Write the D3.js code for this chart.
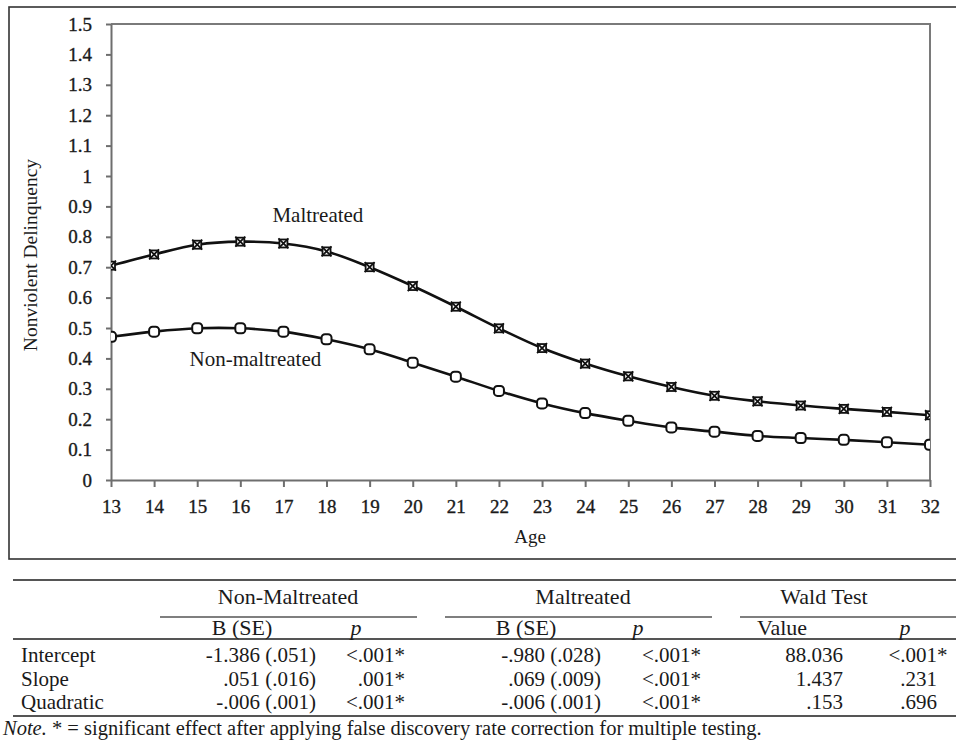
<!DOCTYPE html>
<html>
<head>
<meta charset="utf-8">
<script src="https://cdn.jsdelivr.net/npm/d3@7"></script>
<style>
body { margin: 0; background: #fff; }
svg, text, .axis text { font-family: "Liberation Serif", "Times New Roman", Times, "DejaVu Serif", serif; }
text { fill: #1a1a1a; }
.axis path, .axis line { stroke: #6e6e6e; stroke-width: 2px; }
.axis text { font-size: 19px; fill: #1a1a1a; stroke: #1a1a1a; stroke-width: 0.35px; }
path.line { fill: none; stroke: #111; stroke-width: 2.6px; }
.rule { stroke: #555; }
</style>
</head>
<body>
<script>
// chart data
var ages = [13,14,15,16,17,18,19,20,21,22,23,24,25,26,27,28,29,30,31,32];
var maltreated = [0.705,0.742,0.774,0.784,0.778,0.752,0.700,0.638,0.570,0.499,0.434,0.383,0.341,0.306,0.277,0.259,0.245,0.234,0.224,0.213];
var nonMaltreated = [0.471,0.488,0.499,0.499,0.488,0.463,0.430,0.386,0.340,0.293,0.252,0.220,0.195,0.173,0.159,0.145,0.138,0.132,0.124,0.116];
var yTicks = [0,0.1,0.2,0.3,0.4,0.5,0.6,0.7,0.8,0.9,1,1.1,1.2,1.3,1.4,1.5];

// table data
var rowLabels = ["Intercept", "Slope", "Quadratic"];
var nonMalB = ["-1.386 (.051)", ".051 (.016)", "-.006 (.001)"];
var nonMalP = ["<.001*", ".001*", "<.001*"];
var malB = ["-.980 (.028)", ".069 (.009)", "-.006 (.001)"];
var malP = ["<.001*", "<.001*", "<.001*"];
var waldValue = ["88.036", "1.437", ".153"];
var waldP = ["<.001*", ".231", ".696"];
var groupHeads = ["Non-Maltreated", "Maltreated", "Wald Test"];
var colHeads = ["B (SE)", "p", "B (SE)", "p", "Value", "p"];

var width = 956, height = 753;
var svg = d3.select("body").append("svg")
    .attr("width", width)
    .attr("height", height);

// outer box round the figure
svg.append("rect")
    .attr("x", 9).attr("y", 7)
    .attr("width", 960).attr("height", 552)
    .attr("fill", "none")
    .attr("stroke", "#333")
    .attr("stroke-width", 1.6);

var x = d3.scaleLinear().domain([13, 32]).range([111, 930]);
var y = d3.scaleLinear().domain([0, 1.5]).range([480, 24]);

// plot frame (top and right)
svg.append("path")
    .attr("d", "M" + x(13) + "," + y(1.5) + "H" + x(32) + "V" + y(0))
    .attr("fill", "none")
    .attr("stroke", "#7a7a7a")
    .attr("stroke-width", 2);

var yAxis = svg.append("g")
    .attr("class", "axis")
    .attr("transform", "translate(" + x(13) + ",0)")
    .call(d3.axisLeft(y).tickValues(yTicks).tickSize(5).tickSizeOuter(0).tickPadding(14)
        .tickFormat(function(d) { return String(+d.toFixed(1)); }));

var xAxis = svg.append("g")
    .attr("class", "axis")
    .attr("transform", "translate(0," + y(0) + ")")
    .call(d3.axisBottom(x).tickValues(ages).tickSize(7).tickSizeOuter(0).tickPadding(13)
        .tickFormat(d3.format("d")));

// d3 puts font-family on the axis groups, take it off
yAxis.attr("font-family", null).attr("font-size", null);
xAxis.attr("font-family", null).attr("font-size", null);

svg.append("text")
    .attr("transform", "translate(37," + y(0.74) + ") rotate(-90)")
    .attr("text-anchor", "middle")
    .style("font-size", "19.5px")
    .text("Nonviolent Delinquency");

svg.append("text")
    .attr("x", 530).attr("y", 543)
    .attr("text-anchor", "middle")
    .style("font-size", "19px")
    .text("Age");

// clip markers to plot area, the end ones are cut in half
svg.append("clipPath").attr("id", "plotclip")
  .append("rect")
    .attr("x", x(13)).attr("y", y(1.5))
    .attr("width", x(32) - x(13)).attr("height", y(0) - y(1.5));

var line = d3.line()
    .x(function(d) { return x(d[0]); })
    .y(function(d) { return y(d[1]); })
    .curve(d3.curveCatmullRom);

var series = [
  {name: "Maltreated", vals: maltreated},
  {name: "Non-maltreated", vals: nonMaltreated}
];

var plot = svg.append("g").attr("clip-path", "url(#plotclip)");

plot.selectAll("path.line")
    .data(series)
  .enter().append("path")
    .attr("class", "line")
    .attr("d", function(s) { return line(d3.zip(ages, s.vals)); });

// maltreated: small square with a cross through it
var mal = plot.selectAll("g.mal")
    .data(d3.zip(ages, maltreated))
  .enter().append("g")
    .attr("class", "mal")
    .attr("transform", function(d) { return "translate(" + x(d[0]) + "," + y(d[1]) + ")"; });
mal.append("rect")
    .attr("x", -4).attr("y", -4).attr("width", 8).attr("height", 8)
    .attr("fill", "#fff").attr("stroke", "#111").attr("stroke-width", 1.8);
mal.append("path")
    .attr("d", "M-5,-5L5,5M5,-5L-5,5")
    .attr("stroke", "#111").attr("stroke-width", 1.8);

// non-maltreated: open rounded square
plot.selectAll("rect.non")
    .data(d3.zip(ages, nonMaltreated))
  .enter().append("rect")
    .attr("class", "non")
    .attr("x", function(d) { return x(d[0]) - 5; })
    .attr("y", function(d) { return y(d[1]) - 5; })
    .attr("width", 10).attr("height", 10)
    .attr("rx", 3.5)
    .attr("fill", "#fff").attr("stroke", "#111").attr("stroke-width", 2);

svg.append("text")
    .attr("x", x(17.8)).attr("y", y(0.85))
    .attr("text-anchor", "middle")
    .style("font-size", "21px")
    .text("Maltreated");
svg.append("text")
    .attr("x", x(16.35)).attr("y", y(0.375))
    .attr("text-anchor", "middle")
    .style("font-size", "21px")
    .text("Non-maltreated");

// ---- table under the chart ----
var tfont = "21px";
function rule(x1, x2, yy, w) {
  svg.append("line").attr("class", "rule")
    .attr("x1", x1).attr("x2", x2).attr("y1", yy).attr("y2", yy)
    .attr("stroke-width", w);
}
rule(13, 956, 580, 2);
rule(160, 417, 617, 1.6);
rule(445, 712, 617, 1.6);
rule(740, 956, 617, 1.6);
rule(13, 956, 639, 2);
rule(13, 956, 716, 2);

var groupX = [288, 583, 824];
svg.selectAll("text.ghead")
    .data(groupHeads)
  .enter().append("text")
    .attr("class", "ghead")
    .attr("x", function(d, i) { return groupX[i]; })
    .attr("y", 604)
    .attr("text-anchor", "middle")
    .style("font-size", "22px")
    .text(function(d) { return d; });

var colX = [242, 356, 526, 638, 782, 905];
svg.selectAll("text.chead")
    .data(colHeads)
  .enter().append("text")
    .attr("class", "chead")
    .attr("x", function(d, i) { return colX[i]; })
    .attr("y", 635)
    .attr("text-anchor", "middle")
    .style("font-size", "22px")
    .style("font-style", function(d) { return d == "p" ? "italic" : null; })
    .text(function(d) { return d; });

var rowY = [662, 685.5, 709];
var cols = [
  {vals: rowLabels, x: 21, anchor: "start"},
  {vals: nonMalB, x: 316, anchor: "end"},
  {vals: nonMalP, x: 405, anchor: "end"},
  {vals: malB, x: 601, anchor: "end"},
  {vals: malP, x: 701, anchor: "end"},
  {vals: waldValue, x: 843, anchor: "end"},
  {vals: waldP, x: 937, anchor: "end", star: true}
];
cols.forEach(function(c) {
  svg.selectAll(null)
      .data(c.vals)
    .enter().append("text")
      .attr("x", function(d) { return c.star && d.slice(-1) == "*" ? c.x + 10.5 : c.x; })
      .attr("y", function(d, i) { return rowY[i]; })
      .attr("text-anchor", c.anchor)
      .style("font-size", tfont)
      .text(function(d) { return d; });
});

var note = svg.append("text")
    .attr("x", 3).attr("y", 735)
    .style("font-size", "20.5px");
note.append("tspan").style("font-style", "italic").text("Note.");
note.append("tspan").text(" * = significant effect after applying false discovery rate correction for multiple testing.");
</script>
</body>
</html>
